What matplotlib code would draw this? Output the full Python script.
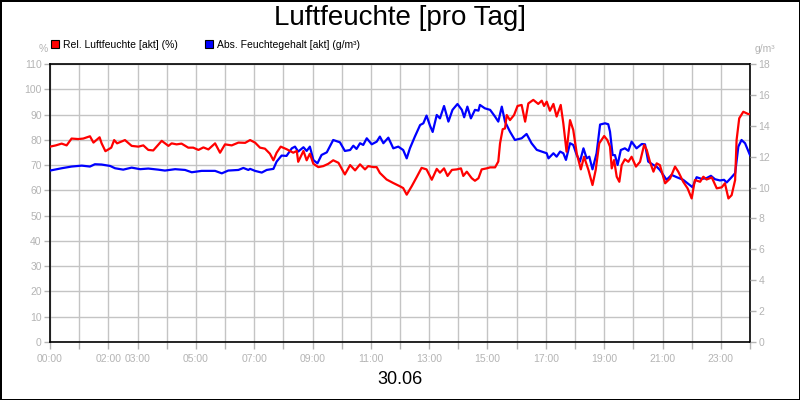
import matplotlib
matplotlib.use("Agg")
import matplotlib.pyplot as plt
from matplotlib.patches import Patch

plt.rcParams["font.family"] = ["Liberation Sans", "DejaVu Sans"]

# relative humidity (%), hours since 00:00
rel_hours = [0.0, 0.2, 0.4, 0.57, 0.74, 0.97, 1.14, 1.37, 1.49, 1.6, 1.7, 1.77, 1.9, 2.1,
             2.2, 2.3, 2.57, 2.8, 3.03, 3.2, 3.37, 3.54, 3.83, 4.06, 4.17, 4.34, 4.51,
             4.74, 4.91, 5.09, 5.26, 5.43, 5.66, 5.83, 6.0, 6.23, 6.46, 6.69, 6.86, 7.03,
             7.2, 7.37, 7.54, 7.66, 7.77, 7.91, 8.11, 8.34, 8.46, 8.51, 8.69, 8.8, 8.91,
             9.03, 9.2, 9.37, 9.54, 9.71, 9.89, 10.11, 10.29, 10.46, 10.63, 10.8, 10.91,
             11.09, 11.2, 11.31, 11.54, 11.77, 12.0, 12.11, 12.23, 12.4, 12.57, 12.74,
             12.91, 13.09, 13.26, 13.37, 13.51, 13.63, 13.78, 13.95, 14.09, 14.17, 14.29,
             14.46, 14.57, 14.69, 14.8, 14.97, 15.09, 15.26, 15.37, 15.43, 15.52, 15.6,
             15.66, 15.77, 15.91, 16.03, 16.17, 16.29, 16.4, 16.57, 16.74, 16.86, 16.94,
             17.03, 17.14, 17.26, 17.37, 17.51, 17.6, 17.71, 17.83, 17.94, 18.06, 18.2,
             18.31, 18.46, 18.6, 18.71, 18.83, 19.0, 19.11, 19.2, 19.26, 19.34, 19.43,
             19.52, 19.6, 19.71, 19.83, 19.94, 20.09, 20.23, 20.37, 20.46, 20.57, 20.69,
             20.8, 20.91, 21.09, 21.26, 21.43, 21.54, 21.71, 21.86, 22.0, 22.11, 22.29,
             22.4, 22.51, 22.69, 22.86, 23.03, 23.14, 23.26, 23.37, 23.49, 23.54, 23.63,
             23.77, 23.94, 24.0]
rel_values = [77.3, 77.8, 78.5, 77.8, 80.5, 80.3, 80.5, 81.4, 78.9, 80.0, 81.0, 78.6, 75.5, 76.9,
              79.9, 78.6, 79.9, 77.6, 77.3, 77.8, 76.0, 75.8, 79.6, 77.6, 78.6, 78.2, 78.5,
              76.9, 76.9, 76.0, 77.0, 76.2, 78.6, 74.9, 78.2, 77.8, 78.9, 78.8, 79.9, 78.9,
              76.9, 76.5, 74.5, 71.9, 74.9, 77.3, 76.3, 74.9, 75.6, 71.3, 75.6, 71.9, 74.5,
              70.5, 69.2, 69.6, 70.5, 71.9, 70.9, 66.3, 70.0, 67.9, 70.3, 68.3, 69.6,
              69.2, 69.2, 66.9, 64.3, 62.9, 61.6, 60.9, 58.3, 61.6, 65.2, 68.9,
              68.3, 64.2, 68.5, 67.0, 68.7, 65.7, 68.1, 68.3, 68.7, 65.7, 67.4,
              64.8, 63.8, 64.8, 68.3, 68.7, 69.1, 69.1, 71.4, 78.6, 84.2, 84.5,
              89.8, 87.8, 89.8, 93.4, 93.8, 87.2, 94.4, 95.8, 94.2, 95.5, 93.4,
              95.1, 91.5, 94.2, 89.2, 93.8, 86.5, 75.3, 87.8, 83.9, 74.6, 68.3,
              73.3, 68.1, 62.1, 68.1, 78.6, 81.5, 79.9, 77.3, 68.7, 72.0, 65.4,
              63.4, 70.0, 72.3, 71.3, 73.3, 69.4, 71.3, 78.0, 76.0, 71.3, 67.4,
              70.7, 70.0, 62.8, 64.7, 69.4, 67.4, 63.4, 60.8, 56.8, 64.1, 63.4,
              65.4, 64.3, 65.1, 60.8, 61.2, 62.8, 56.8, 58.1, 64.1, 79.9, 88.5,
              91.1, 90.2, 90.2]

# absolute humidity (g/m³)
abs_hours = [0.0, 0.4, 0.74, 1.09, 1.37, 1.54, 1.77, 2.06, 2.23, 2.51, 2.8, 3.09, 3.37, 3.71,
             3.94, 4.29, 4.63, 4.86, 5.2, 5.66, 5.89, 6.11, 6.46, 6.63, 6.8, 6.86, 7.03,
             7.26, 7.43, 7.66, 7.77, 7.94, 8.11, 8.29, 8.4, 8.51, 8.69, 8.8, 8.91, 9.03,
             9.17, 9.31, 9.49, 9.71, 9.94, 10.11, 10.29, 10.4, 10.51, 10.63, 10.74, 10.86,
             11.03, 11.2, 11.31, 11.43, 11.6, 11.77, 11.94, 12.11, 12.23, 12.34, 12.51,
             12.69, 12.8, 12.91, 13.03, 13.12, 13.26, 13.37, 13.51, 13.66, 13.8, 13.97,
             14.12, 14.2, 14.31, 14.43, 14.57, 14.69, 14.74, 14.91, 15.09, 15.26, 15.37,
             15.49, 15.6, 15.77, 15.94, 16.17, 16.34, 16.51, 16.69, 16.86, 17.03, 17.09,
             17.26, 17.37, 17.49, 17.6, 17.69, 17.83, 17.94, 18.06, 18.17, 18.29, 18.4,
             18.49, 18.6, 18.74, 18.86, 19.03, 19.14, 19.2, 19.29, 19.37, 19.46, 19.57,
             19.71, 19.83, 19.94, 20.11, 20.29, 20.4, 20.51, 20.69, 20.8, 20.91, 21.14,
             21.31, 21.49, 21.71, 21.89, 22.03, 22.17, 22.34, 22.51, 22.66, 22.8, 22.97,
             23.11, 23.2, 23.34, 23.49, 23.6, 23.71, 23.83, 24.0]
abs_values = [11.10, 11.25, 11.36, 11.42, 11.36, 11.51, 11.49, 11.40, 11.25, 11.16, 11.29, 11.19,
              11.23, 11.16, 11.10, 11.19, 11.14, 10.99, 11.08, 11.08, 10.92, 11.10, 11.14,
              11.27, 11.14, 11.21, 11.08, 10.97, 11.14, 11.21, 11.68, 12.07, 12.05, 12.54,
              12.65, 12.33, 12.61, 12.37, 12.65, 11.78, 11.57, 12.11, 12.28, 13.08, 12.93,
              12.37, 12.43, 12.71, 12.50, 12.87, 12.76, 13.19, 12.80, 12.97, 13.30, 12.87,
              13.23, 12.54, 12.65, 12.43, 11.89, 12.54, 13.30, 14.05, 14.16, 14.66, 14.00,
              13.60, 14.70, 14.48, 15.28, 14.27, 15.03, 15.41, 15.03, 14.55, 15.24, 14.48,
              15.03, 14.98, 15.35, 15.13, 15.03, 14.59, 14.27, 15.24, 14.27, 13.62, 13.08,
              13.19, 13.47, 12.87, 12.44, 12.33, 12.22, 11.89, 12.22, 12.00, 12.33, 12.22,
              11.79, 12.87, 12.76, 12.11, 11.68, 12.54, 11.89, 12.00, 11.18, 12.22, 14.08,
              14.16, 14.10, 13.62, 12.10, 12.10, 11.46, 12.43, 12.54, 12.38, 12.97, 12.54,
              12.82, 12.80, 11.68, 11.46, 11.35, 11.14, 10.50, 10.82, 10.67, 10.50, 10.23,
              10.02, 10.67, 10.56, 10.61, 10.76, 10.54, 10.46, 10.50, 10.33, 10.61, 10.93,
              12.65, 13.08, 12.87, 12.10]

x_labels = {0: "00:00", 2: "02:00", 3: "03:00", 5: "05:00", 7: "07:00", 9: "09:00",
            11: "11:00", 13: "13:00", 15: "15:00", 17: "17:00", 19: "19:00",
            21: "21:00", 23: "23:00"}
left_ticks = list(range(0, 111, 10))
right_ticks = list(range(0, 19, 2))

GREY = "#b4b4b4"
GRID = "#c4c4c4"

fig = plt.figure(figsize=(8, 4), dpi=100, facecolor="white",
                 edgecolor="black", linewidth=2)
ax = fig.add_axes([0.0625, 0.145, 0.875, 0.695])

ax.set_xlim(0, 24)
ax.set_ylim(0, 110)
ax.set_yticks(left_ticks)
hours = list(range(25))
ax.set_xticks(hours)
ax.set_xticklabels([x_labels.get(h, "") for h in hours])
ax.grid(True, color=GRID, linewidth=1)
ax.set_axisbelow(True)
ax.tick_params(axis="both", colors=GREY, labelcolor=GREY, labelsize=7.5,
               length=4, width=1, pad=2)
ax.tick_params(axis="x", length=5, pad=4)
for sp in ax.spines.values():
    sp.set_color("black")
    sp.set_linewidth(1.2)

# blue on right scale
ax2 = ax.twinx()
ax2.set_ylim(0, 18)
ax2.set_yticks(right_ticks)
ax2.tick_params(axis="y", colors=GREY, labelcolor=GREY, labelsize=7.5,
                length=4, width=1, pad=2)
ax2.plot(abs_hours, abs_values, color="#0000ff", linewidth=1.6)
for sp in ax2.spines.values():
    sp.set_visible(False)

# red on top, same scale as the left axis
ax3 = ax.twinx()
ax3.set_ylim(0, 110)
ax3.set_yticks([])
for sp in ax3.spines.values():
    sp.set_visible(False)
ax3.plot(rel_hours, rel_values, color="#ff0000", linewidth=1.6)

fig.text(0.5, 0.955, "Luftfeuchte [pro Tag]", ha="center", va="center",
         fontsize=20, color="black")
fig.text(0.5, 0.05, "30.06", ha="center", va="center", fontsize=13, color="black")
fig.text(0.054, 0.878, "%", ha="center", va="center", fontsize=7.5, color=GREY)
fig.text(0.956, 0.878, "g/m³", ha="center", va="center", fontsize=7.5, color=GREY)

handles = [Patch(facecolor="#ff0000", edgecolor="black", linewidth=0.8,
                 label="Rel. Luftfeuchte [akt] (%)"),
           Patch(facecolor="#0000ff", edgecolor="black", linewidth=0.8,
                 label="Abs. Feuchtegehalt [akt] (g/m³)")]
fig.legend(handles=handles, loc="center left", bbox_to_anchor=(0.064, 0.888),
           ncol=2, frameon=False, fontsize=7.5, handlelength=0.75,
           handleheight=0.75, handletextpad=0.4, columnspacing=2.6,
           borderpad=0, borderaxespad=0)

plt.savefig("out.png", dpi=100, edgecolor=fig.get_edgecolor())
plt.close()
